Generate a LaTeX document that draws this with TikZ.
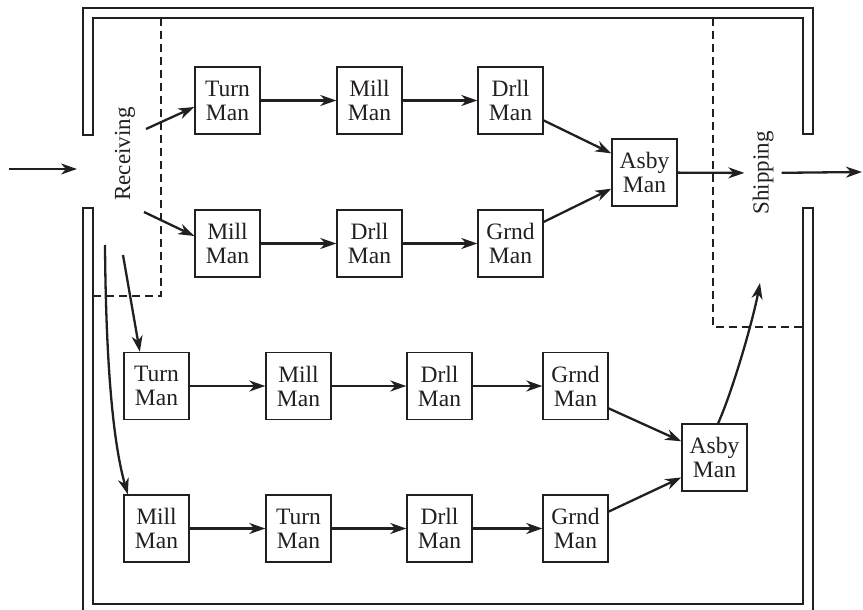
\documentclass[tikz,border=0pt]{standalone}
\usepackage{fontspec}
\setmainfont{Liberation Serif}
\usetikzlibrary{arrows.meta}

\definecolor{ink}{RGB}{35,31,32}

\tikzset{
  station/.style={draw=ink, line width=1.4pt, minimum width=65pt, minimum height=67pt,
    align=center, inner sep=0pt, text=ink, font=\fontsize{23.5}{24}\selectfont},
  area/.style={text=ink, rotate=90, inner sep=8pt, font=\fontsize{23}{24}\selectfont},
  flow/.style={draw=ink, line width=2.3pt, -{Stealth[length=16pt, width=11pt, inset=5pt]}},
  wall/.style={draw=ink, line width=1.3pt},
  zone/.style={draw=ink, line width=1.2pt, dash pattern=on 8pt off 5pt}
}

\begin{document}
\begin{tikzpicture}[x=1pt, y=-1pt]

  \useasboundingbox (0,0) rectangle (863,610);

  % ───────── Building walls (double line) ─────────
  % upper wall: left stub down to 135, right stub down to 134
  \draw[wall] (83,135) -- (83,8) -- (813,8) -- (813,134) -- (803,134)
    -- (803,18) -- (93,18) -- (93,135) -- cycle;
  % lower wall: from the doors down past the page edge
  \draw[wall] (83,208) -- (83,620) -- (813,620) -- (813,208) -- (803,208)
    -- (803,604) -- (93,604) -- (93,208) -- cycle;

  % ───────── Receiving / shipping zones ─────────
  \draw[zone] (161,18) -- (161,296) -- (93,296);
  \draw[zone] (713,18) -- (713,327) -- (803,327);

  \node[area] (recv) at (125,154) {Receiving};
  \node[area] (ship) at (763,173) {Shipping};

  % ───────── Upper two lines ─────────
  \foreach \n/\t/\x in {tA/Turn/227.5, mA/Mill/369.5, dA/Drll/510.5}
    \node[station] (\n) at (\x,100.5) {\t\\Man};
  \foreach \n/\t/\x in {mB/Mill/227.5, dB/Drll/369.5, gB/Grnd/510.5}
    \node[station] (\n) at (\x,243.5) {\t\\Man};
  \node[station] (asbyA) at (644.5,172.5) {Asby\\Man};

  % ───────── Lower two lines ─────────
  \foreach \n/\t/\x in {tC/Turn/156.5, mC/Mill/298.5, dC/Drll/439.5, gC/Grnd/575.5}
    \node[station] (\n) at (\x,386) {\t\\Man};
  \foreach \n/\t/\x in {mD/Mill/156.5, tD/Turn/298.5, dD/Drll/439.5, gD/Grnd/575.5}
    \node[station] (\n) at (\x,528.5) {\t\\Man};
  \node[station] (asbyB) at (714.5,457.5) {Asby\\Man};

  % free ends of the flow
  \coordinate (inS) at (9,169);
  \coordinate (inE) at (77,169);
  \coordinate (outE) at (862,172);
  \coordinate (rA) at (146,129);
  \coordinate (rB) at (144,212);
  \coordinate (rC) at (123,255);
  \coordinate (rD) at (105,245);
  \coordinate (sE) at (760,283);

  % ───────── Flow ─────────
  \draw[flow] (inS) -- (inE);
  \draw[flow] (rA) -- (tA.west |- 0,107);
  \draw[flow] (rB) -- (mB.west |- 0,236);
  \draw[flow] (tA) -- (mA);
  \draw[flow] (mA) -- (dA);
  \draw[flow] (mB) -- (dB);
  \draw[flow] (dB) -- (gB);
  \draw[flow] (dA.-31) -- (asbyA.150);
  \draw[flow] (gB.33) -- (asbyA.-154);
  \draw[flow] (asbyA) -- (ship);
  \draw[flow] (ship) -- (outE);

  \draw[flow] (rC) -- (tC.116);
  \draw[flow] (rD) .. controls (106,380) and (115,450) .. (mD.130);
  \draw[flow] (tC) -- (mC);
  \draw[flow] (mC) -- (dC);
  \draw[flow] (dC) -- (gC);
  \draw[flow] (mD) -- (tD);
  \draw[flow] (tD) -- (dD);
  \draw[flow] (dD) -- (gD);
  \draw[flow] (gC.-34) -- (asbyB.154);
  \draw[flow] (gD.27) -- (asbyB.-149);
  \draw[flow] (asbyB.84) .. controls (733,390) and (753,320) .. (sE);

\end{tikzpicture}
\end{document}
